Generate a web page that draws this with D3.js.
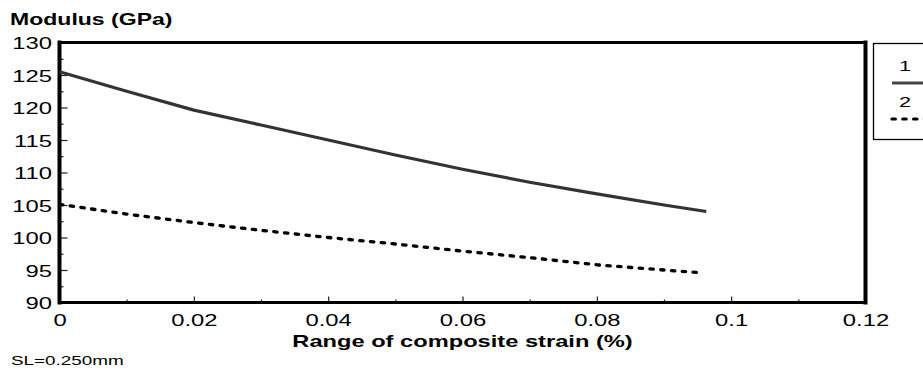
<!DOCTYPE html>
<html>
<head>
<meta charset="utf-8">
<script src="https://cdn.jsdelivr.net/npm/d3@7"></script>
<style>
    body { margin: 0; background: #fff; }
    text { font-family: "Liberation Sans", Arial, sans-serif; fill: #000; }
</style>
</head>
<body>
<svg id="chart" width="923" height="371"></svg>
<script>
// Chart data
const strain = [0, 0.01, 0.02, 0.03, 0.04, 0.05, 0.06, 0.07, 0.08, 0.09, 0.0963];
const modulus1 = [125.5, 122.5, 119.6, 117.3, 115.0, 112.7, 110.5, 108.5, 106.7, 105.0, 104.0];
const strain2 = [0, 0.01, 0.02, 0.03, 0.04, 0.05, 0.06, 0.07, 0.08, 0.09, 0.0954];
const modulus2 = [105.1, 103.6, 102.3, 101.1, 100.0, 99.0, 97.9, 96.9, 95.8, 95.0, 94.6];
const xTicks = [0, 0.02, 0.04, 0.06, 0.08, 0.1, 0.12];
const xMinorTicks = [0.01, 0.03, 0.05, 0.07, 0.09, 0.11];
const yTicks = [90, 95, 100, 105, 110, 115, 120, 125, 130];
const yMinorTicks = [92.5, 97.5, 102.5, 107.5, 112.5, 117.5, 122.5, 127.5];
const seriesNames = ["1", "2"];

const stretch = 1.4; // the original fonts are wide
const dotted = "3.4,7.4";

const svg = d3.select("#chart");

const x = d3.scaleLinear().domain([0, 0.12]).range([59.5, 865.5]);
const y = d3.scaleLinear().domain([90, 130]).range([302.5, 42.5]);

function wideText(parent, px, py, str, size, weight, anchor, sx) {
    return parent.append("text")
        .attr("transform", `translate(${px},${py}) scale(${sx || stretch},1)`)
        .attr("text-anchor", anchor || "start")
        .attr("font-size", size)
        .attr("font-weight", weight || "normal")
        .text(str);
}

// axes (ticks point inward)
const yAxis = svg.append("g")
    .attr("transform", `translate(${x(0)},0)`)
    .call(d3.axisLeft(y).tickValues(yTicks).tickSizeInner(-8).tickSizeOuter(0).tickPadding(7.5));
yAxis.selectAll("text")
    .attr("font-size", 17)
    .attr("font-family", "Liberation Sans, Arial, sans-serif")
    .attr("x", -7.5 / stretch)
    .attr("dy", "0.36em")
    .attr("transform", `scale(${stretch},1)`);

svg.append("g")
    .attr("transform", `translate(${x(0)},0)`)
    .call(d3.axisLeft(y).tickValues(yMinorTicks).tickSizeInner(-4).tickSizeOuter(0).tickFormat(""));

const xAxis = svg.append("g")
    .attr("transform", `translate(0,${y(90)})`)
    .call(d3.axisBottom(x).tickValues(xTicks).tickSizeInner(-6).tickSizeOuter(0).tickPadding(11)
        .tickFormat(d => String(+d.toFixed(2))));
xAxis.selectAll("text")
    .attr("font-size", 17)
    .attr("font-family", "Liberation Sans, Arial, sans-serif")
    .attr("dy", "0.71em")
    .attr("transform", `scale(${stretch},1)`);

svg.append("g")
    .attr("transform", `translate(0,${y(90)})`)
    .call(d3.axisBottom(x).tickValues(xMinorTicks).tickSizeInner(-3).tickSizeOuter(0).tickFormat(""));

svg.selectAll(".domain").remove();
svg.selectAll(".tick line").attr("stroke", "#222").attr("stroke-width", 1.2);

// frame
const frame = svg.append("g").attr("stroke", "#000").attr("stroke-linecap", "square");
frame.append("line").attr("x1", x(0)).attr("x2", x(0.12)).attr("y1", y(130)).attr("y2", y(130)).attr("stroke-width", 3);
frame.append("line").attr("x1", x(0)).attr("x2", x(0.12)).attr("y1", y(90)).attr("y2", y(90)).attr("stroke-width", 3);
frame.append("line").attr("x1", x(0)).attr("x2", x(0)).attr("y1", y(130)).attr("y2", y(90)).attr("stroke-width", 4);
frame.append("line").attr("x1", x(0.12)).attr("x2", x(0.12)).attr("y1", y(130)).attr("y2", y(90)).attr("stroke-width", 4);

// series
const line = d3.line().x(d => x(d[0])).y(d => y(d[1]));

svg.append("path")
    .datum(d3.zip(strain, modulus1))
    .attr("d", line)
    .attr("fill", "none")
    .attr("stroke", "#333")
    .attr("stroke-width", 3.2)
    .attr("stroke-linejoin", "round");

svg.append("path")
    .datum(d3.zip(strain2, modulus2))
    .attr("d", line)
    .attr("fill", "none")
    .attr("stroke", "#000")
    .attr("stroke-width", 3.3)
    .attr("stroke-linecap", "round")
    .attr("stroke-dasharray", dotted);

// labels
wideText(svg, 10, 25, "Modulus (GPa)", 16, "bold", "start", 1.44);
wideText(svg, (x(0) + x(0.12)) / 2, 347, "Range of composite strain (%)", 16, "bold", "middle", 1.48);
wideText(svg, 11, 365, "SL=0.250mm", 13.5);

// legend
const legend = svg.append("g");
legend.append("rect")
    .attr("x", 873.5).attr("y", 43.5)
    .attr("width", 70).attr("height", 96)
    .attr("fill", "#fff").attr("stroke", "#000").attr("stroke-width", 1.3);

seriesNames.forEach((name, i) => {
    const top = 71 + i * 36;
    wideText(legend, 905, top, name, 15.5, "normal", "middle");
    legend.append("line")
        .attr("x1", 892).attr("x2", 925)
        .attr("y1", top + 12).attr("y2", top + 12)
        .attr("stroke", i === 0 ? "#444" : "#000")
        .attr("stroke-width", 3.2)
        .attr("stroke-linecap", i === 0 ? "butt" : "round")
        .attr("stroke-dasharray", i === 0 ? null : dotted);
});
</script>
</body>
</html>
